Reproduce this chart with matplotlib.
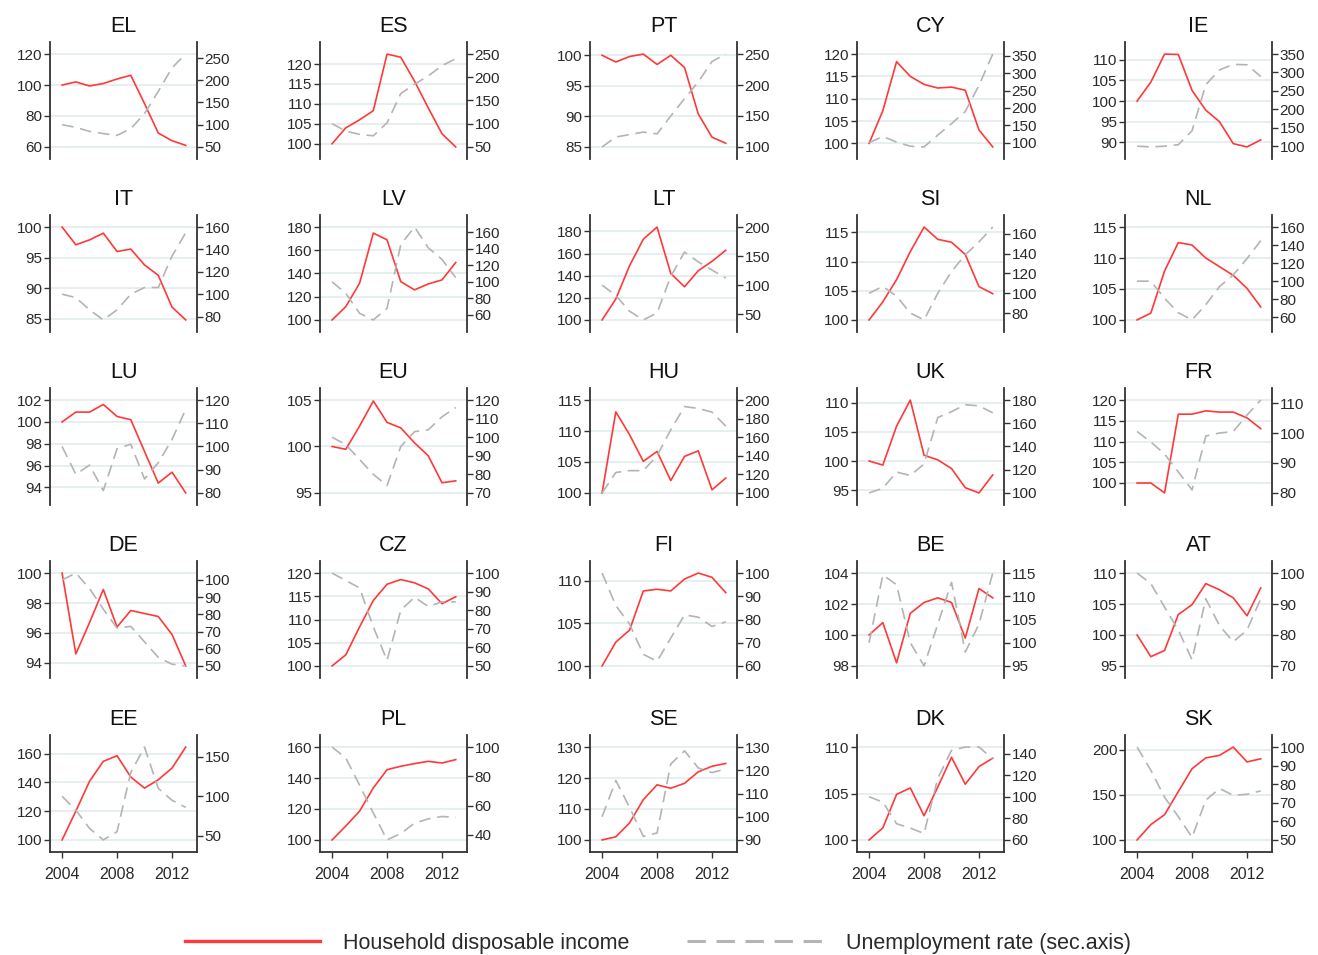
import matplotlib
matplotlib.use("Agg")
import matplotlib.pyplot as plt
from matplotlib.lines import Line2D

plt.rcParams['font.family'] = ['Liberation Sans', 'DejaVu Sans']

years = list(range(2004, 2014))

# Household disposable income (index) and unemployment rate (index, sec. axis)
inc_EL = [100, 102, 99.4, 101, 103.9, 106.3, 88, 69, 64, 61]
une_EL = [100, 94, 85, 80, 76, 91, 125, 175, 228, 259]
inc_ES = [100, 104, 106, 108.3, 122.5, 121.7, 115.7, 109, 102.5, 99.2]
une_ES = [100, 84, 77, 74, 102, 165, 185, 203, 225, 240]
inc_PT = [100, 98.9, 99.8, 100.2, 98.5, 100, 98, 90.4, 86.6, 85.6]
une_PT = [100, 116, 120, 124, 121, 150, 178, 205, 238, 250]
inc_CY = [100, 107.3, 118.3, 115, 113.2, 112.4, 112.6, 111.9, 103, 99.2]
une_CY = [100, 118, 102, 90, 88, 122, 155, 190, 265, 355]
inc_IE = [100, 104.6, 111.4, 111.3, 102.6, 97.8, 95, 89.7, 88.9, 90.6]
une_IE = [100, 98, 100, 104, 142, 267, 307, 322, 321, 289]

inc_IT = [100, 97.1, 97.9, 99, 96, 96.4, 93.8, 92.1, 86.9, 84.8]
une_IT = [100, 97, 86, 77, 86, 100, 106, 106, 134, 155]
inc_LV = [100, 111.5, 131.6, 174.8, 169, 133, 125.9, 131, 134.5, 149.5]
une_LV = [100, 86, 62, 54, 68, 145, 166, 141, 127, 105]
inc_LT = [100, 119, 149, 173, 184, 142, 130, 144.5, 153, 163]
une_LT = [100, 82, 55, 40, 52, 115, 157, 140, 126, 112]
inc_SI = [100, 103.1, 106.9, 111.7, 115.9, 113.8, 113.3, 111.2, 105.7, 104.5]
une_SI = [100, 107, 97, 80, 73, 100, 122, 139, 152, 167]
inc_NL = [100, 101.1, 107.9, 112.5, 112.1, 110, 108.6, 107.2, 105.1, 102.1]
une_NL = [100, 100, 81, 65, 57, 74, 94, 107, 125, 145]

inc_LU = [100, 100.9, 100.9, 101.6, 100.5, 100.2, 97.3, 94.4, 95.4, 93.5]
une_LU = [100, 88, 92, 81, 99, 101, 86, 93, 103, 116]
inc_EU = [100, 99.7, 102.2, 104.9, 102.6, 102, 100.4, 99, 96.1, 96.3]
une_EU = [100, 96, 88, 80, 74, 95, 103, 104, 111, 116]
inc_HU = [100, 113.1, 109.4, 105.1, 106.7, 102, 105.9, 106.8, 100.5, 102.4]
une_HU = [100, 122, 124, 124, 140, 168, 193, 191, 187, 172]
inc_UK = [100, 99.3, 106, 110.5, 101, 100.2, 98.7, 95.4, 94.5, 97.6]
une_UK = [100, 104, 118, 115, 125, 165, 170, 176, 175, 169]
inc_FR = [100, 100, 97.6, 116.6, 116.6, 117.4, 117.1, 117.1, 115.7, 113.1]
une_FR = [100.5, 97, 93, 87, 81, 99, 100, 100.5, 106, 111]

inc_DE = [100, 94.6, 96.7, 98.9, 96.4, 97.5, 97.3, 97.1, 95.9, 93.8]
une_DE = [100, 104, 95, 83, 72, 73, 64, 55, 51, 50]
inc_CZ = [100, 102.4, 108.4, 114.1, 117.6, 118.6, 117.9, 116.6, 113.4, 114.9]
une_CZ = [100, 96, 92, 71, 53, 80, 87, 82, 84.5, 84.5]
inc_FI = [100, 102.8, 104.2, 108.8, 109, 108.8, 110.2, 110.9, 110.4, 108.6]
une_FI = [100, 86, 78, 65, 62, 72, 82, 81, 77, 79]
inc_BE = [100, 100.8, 98.2, 101.4, 102.1, 102.4, 102.1, 99.8, 103, 102.4]
une_BE = [100, 114.6, 112.5, 100, 95, 104, 113, 98, 104, 115]
inc_AT = [100, 96.5, 97.5, 103.3, 104.9, 108.3, 107.3, 106, 103.1, 107.6]
une_AT = [100, 96.6, 89, 81.6, 72, 91.7, 83, 77.8, 81.6, 91.7]

inc_EE = [100, 120, 140.8, 154.6, 158.5, 143.7, 136, 141.8, 149.9, 164.5]
une_EE = [100, 82.5, 59.6, 45, 55.4, 130, 162, 110, 95, 86]
inc_PL = [100, 109, 118.6, 133.6, 145.4, 147.6, 149.3, 150.8, 149.7, 151.9]
une_PL = [100, 92.5, 74, 55, 36.6, 41, 48, 51, 52.6, 52]
inc_SE = [100, 101, 105.5, 113, 117.8, 116.7, 118.3, 122, 123.8, 124.7]
une_SE = [100, 115.6, 104, 91.5, 93, 122.7, 128.4, 121, 119, 120.6]
inc_DK = [100, 101.3, 104.9, 105.6, 102.6, 105.7, 108.9, 106, 107.9, 108.8]
une_DK = [100, 95, 75, 71, 66, 117, 143, 146, 146, 135]
inc_SK = [100, 117, 128, 153.6, 179, 191, 193.8, 203, 186.5, 190]
une_SK = [100, 87.5, 73, 62.5, 51.4, 71.4, 77.7, 74, 74.6, 76.4]

# tick labels (left axis, right axis)
lt_EL = [60, 80, 100, 120];            rt_EL = [50, 100, 150, 200, 250]
lt_ES = [100, 105, 110, 115, 120];     rt_ES = [50, 100, 150, 200, 250]
lt_PT = [85, 90, 95, 100];             rt_PT = [100, 150, 200, 250]
lt_CY = [100, 105, 110, 115, 120];     rt_CY = [100, 150, 200, 250, 300, 350]
lt_IE = [90, 95, 100, 105, 110];       rt_IE = [100, 150, 200, 250, 300, 350]
lt_IT = [85, 90, 95, 100];             rt_IT = [80, 100, 120, 140, 160]
lt_LV = [100, 120, 140, 160, 180];     rt_LV = [60, 80, 100, 120, 140, 160]
lt_LT = [100, 120, 140, 160, 180];     rt_LT = [50, 100, 150, 200]
lt_SI = [100, 105, 110, 115];          rt_SI = [80, 100, 120, 140, 160]
lt_NL = [100, 105, 110, 115];          rt_NL = [60, 80, 100, 120, 140, 160]
lt_LU = [94, 96, 98, 100, 102];        rt_LU = [80, 90, 100, 110, 120]
lt_EU = [95, 100, 105];                rt_EU = [70, 80, 90, 100, 110, 120]
lt_HU = [100, 105, 110, 115];          rt_HU = [100, 120, 140, 160, 180, 200]
lt_UK = [95, 100, 105, 110];           rt_UK = [100, 120, 140, 160, 180]
lt_FR = [100, 105, 110, 115, 120];     rt_FR = [80, 90, 100, 110]
lt_DE = [94, 96, 98, 100];             rt_DE = [50, 60, 70, 80, 90, 100]
lt_CZ = [100, 105, 110, 115, 120];     rt_CZ = [50, 60, 70, 80, 90, 100]
lt_FI = [100, 105, 110];               rt_FI = [60, 70, 80, 90, 100]
lt_BE = [98, 100, 102, 104];           rt_BE = [95, 100, 105, 110, 115]
lt_AT = [95, 100, 105, 110];           rt_AT = [70, 80, 90, 100]
lt_EE = [100, 120, 140, 160];          rt_EE = [50, 100, 150]
lt_PL = [100, 120, 140, 160];          rt_PL = [40, 60, 80, 100]
lt_SE = [100, 110, 120, 130];          rt_SE = [90, 100, 110, 120, 130]
lt_DK = [100, 105, 110];               rt_DK = [60, 80, 100, 120, 140]
lt_SK = [100, 150, 200];               rt_SK = [50, 60, 70, 80, 90, 100]

x_ticks = [2004, 2008, 2012]

panels = [
    ("EL", inc_EL, une_EL, lt_EL, rt_EL), ("ES", inc_ES, une_ES, lt_ES, rt_ES),
    ("PT", inc_PT, une_PT, lt_PT, rt_PT), ("CY", inc_CY, une_CY, lt_CY, rt_CY),
    ("IE", inc_IE, une_IE, lt_IE, rt_IE),
    ("IT", inc_IT, une_IT, lt_IT, rt_IT), ("LV", inc_LV, une_LV, lt_LV, rt_LV),
    ("LT", inc_LT, une_LT, lt_LT, rt_LT), ("SI", inc_SI, une_SI, lt_SI, rt_SI),
    ("NL", inc_NL, une_NL, lt_NL, rt_NL),
    ("LU", inc_LU, une_LU, lt_LU, rt_LU), ("EU", inc_EU, une_EU, lt_EU, rt_EU),
    ("HU", inc_HU, une_HU, lt_HU, rt_HU), ("UK", inc_UK, une_UK, lt_UK, rt_UK),
    ("FR", inc_FR, une_FR, lt_FR, rt_FR),
    ("DE", inc_DE, une_DE, lt_DE, rt_DE), ("CZ", inc_CZ, une_CZ, lt_CZ, rt_CZ),
    ("FI", inc_FI, une_FI, lt_FI, rt_FI), ("BE", inc_BE, une_BE, lt_BE, rt_BE),
    ("AT", inc_AT, une_AT, lt_AT, rt_AT),
    ("EE", inc_EE, une_EE, lt_EE, rt_EE), ("PL", inc_PL, une_PL, lt_PL, rt_PL),
    ("SE", inc_SE, une_SE, lt_SE, rt_SE), ("DK", inc_DK, une_DK, lt_DK, rt_DK),
    ("SK", inc_SK, une_SK, lt_SK, rt_SK),
]

W, H = 1318, 955
fig = plt.figure(figsize=(W / 100, H / 100), dpi=100)

col_left = [50, 320, 590, 857, 1125]
row_top = [42, 215, 388, 561, 735]
ax_w, ax_h = 147, 117
RED = '#ff3838'
GREY = '#b4b4b4'
SPINE = '#333333'
TXT = '#2a2a2a'
MARG = 0.13


def lims(vals, ticks):
    lo = min(min(vals), ticks[0])
    hi = max(max(vals), ticks[-1])
    span = hi - lo
    return lo - MARG * span, hi + MARG * span


for idx, (name, inc, une, lt, rt) in enumerate(panels):
    r, c = divmod(idx, 5)
    ax = fig.add_axes([col_left[c] / W, 1 - (row_top[r] + ax_h) / H, ax_w / W, ax_h / H])
    ax2 = ax.twinx()
    ax.plot(years, inc, color=RED, lw=1.2, solid_joinstyle='round')
    ax2.plot(years, une, color=GREY, lw=1.2, dashes=(7, 4))
    ax.set_xlim(2003.12, 2013.82)
    ax.set_ylim(*lims(inc, lt))
    ax2.set_ylim(*lims(une, rt))
    ax.set_yticks(lt)
    ax2.set_yticks(rt)
    ax.yaxis.grid(True, color='#e6eef0', lw=1.4)
    ax.set_axisbelow(True)
    for sp in ['top', 'right', 'bottom']:
        ax.spines[sp].set_visible(False)
    for sp in ['top', 'left', 'bottom']:
        ax2.spines[sp].set_visible(False)
    ax.spines['left'].set_color(SPINE)
    ax.spines['left'].set_linewidth(1.3)
    ax2.spines['right'].set_color(SPINE)
    ax2.spines['right'].set_linewidth(1.3)
    ax.tick_params(axis='y', direction='out', length=4.5, width=1, color=SPINE,
                   labelsize=11, labelcolor=TXT, pad=1)
    ax2.tick_params(axis='y', direction='out', length=4.5, width=1, color=SPINE,
                    labelsize=11, labelcolor=TXT, pad=1)
    if r == 4:
        ax.spines['bottom'].set_visible(True)
        ax.spines['bottom'].set_color(SPINE)
        ax.spines['bottom'].set_linewidth(1.3)
        ax.set_xticks(x_ticks)
        ax.tick_params(axis='x', direction='out', length=4.5, width=1, color=SPINE,
                       labelsize=11.5, labelcolor=TXT, pad=6)
    else:
        ax.set_xticks([])
    ax.set_title(name, fontsize=15.5, color='#111111', pad=7)

h1 = Line2D([], [], color=RED, lw=2.4)
h2 = Line2D([], [], color=GREY, lw=2.2, dashes=(6, 3.5))
fig.legend([h1, h2], ["Household disposable income", "Unemployment rate (sec.axis)"],
           loc='center', bbox_to_anchor=(0.499, 0.0125), ncol=2, frameon=False,
           fontsize=15.5, handlelength=6.3, handletextpad=1.05, columnspacing=2.7,
           labelcolor=TXT)

fig.savefig("out.png", dpi=100)
